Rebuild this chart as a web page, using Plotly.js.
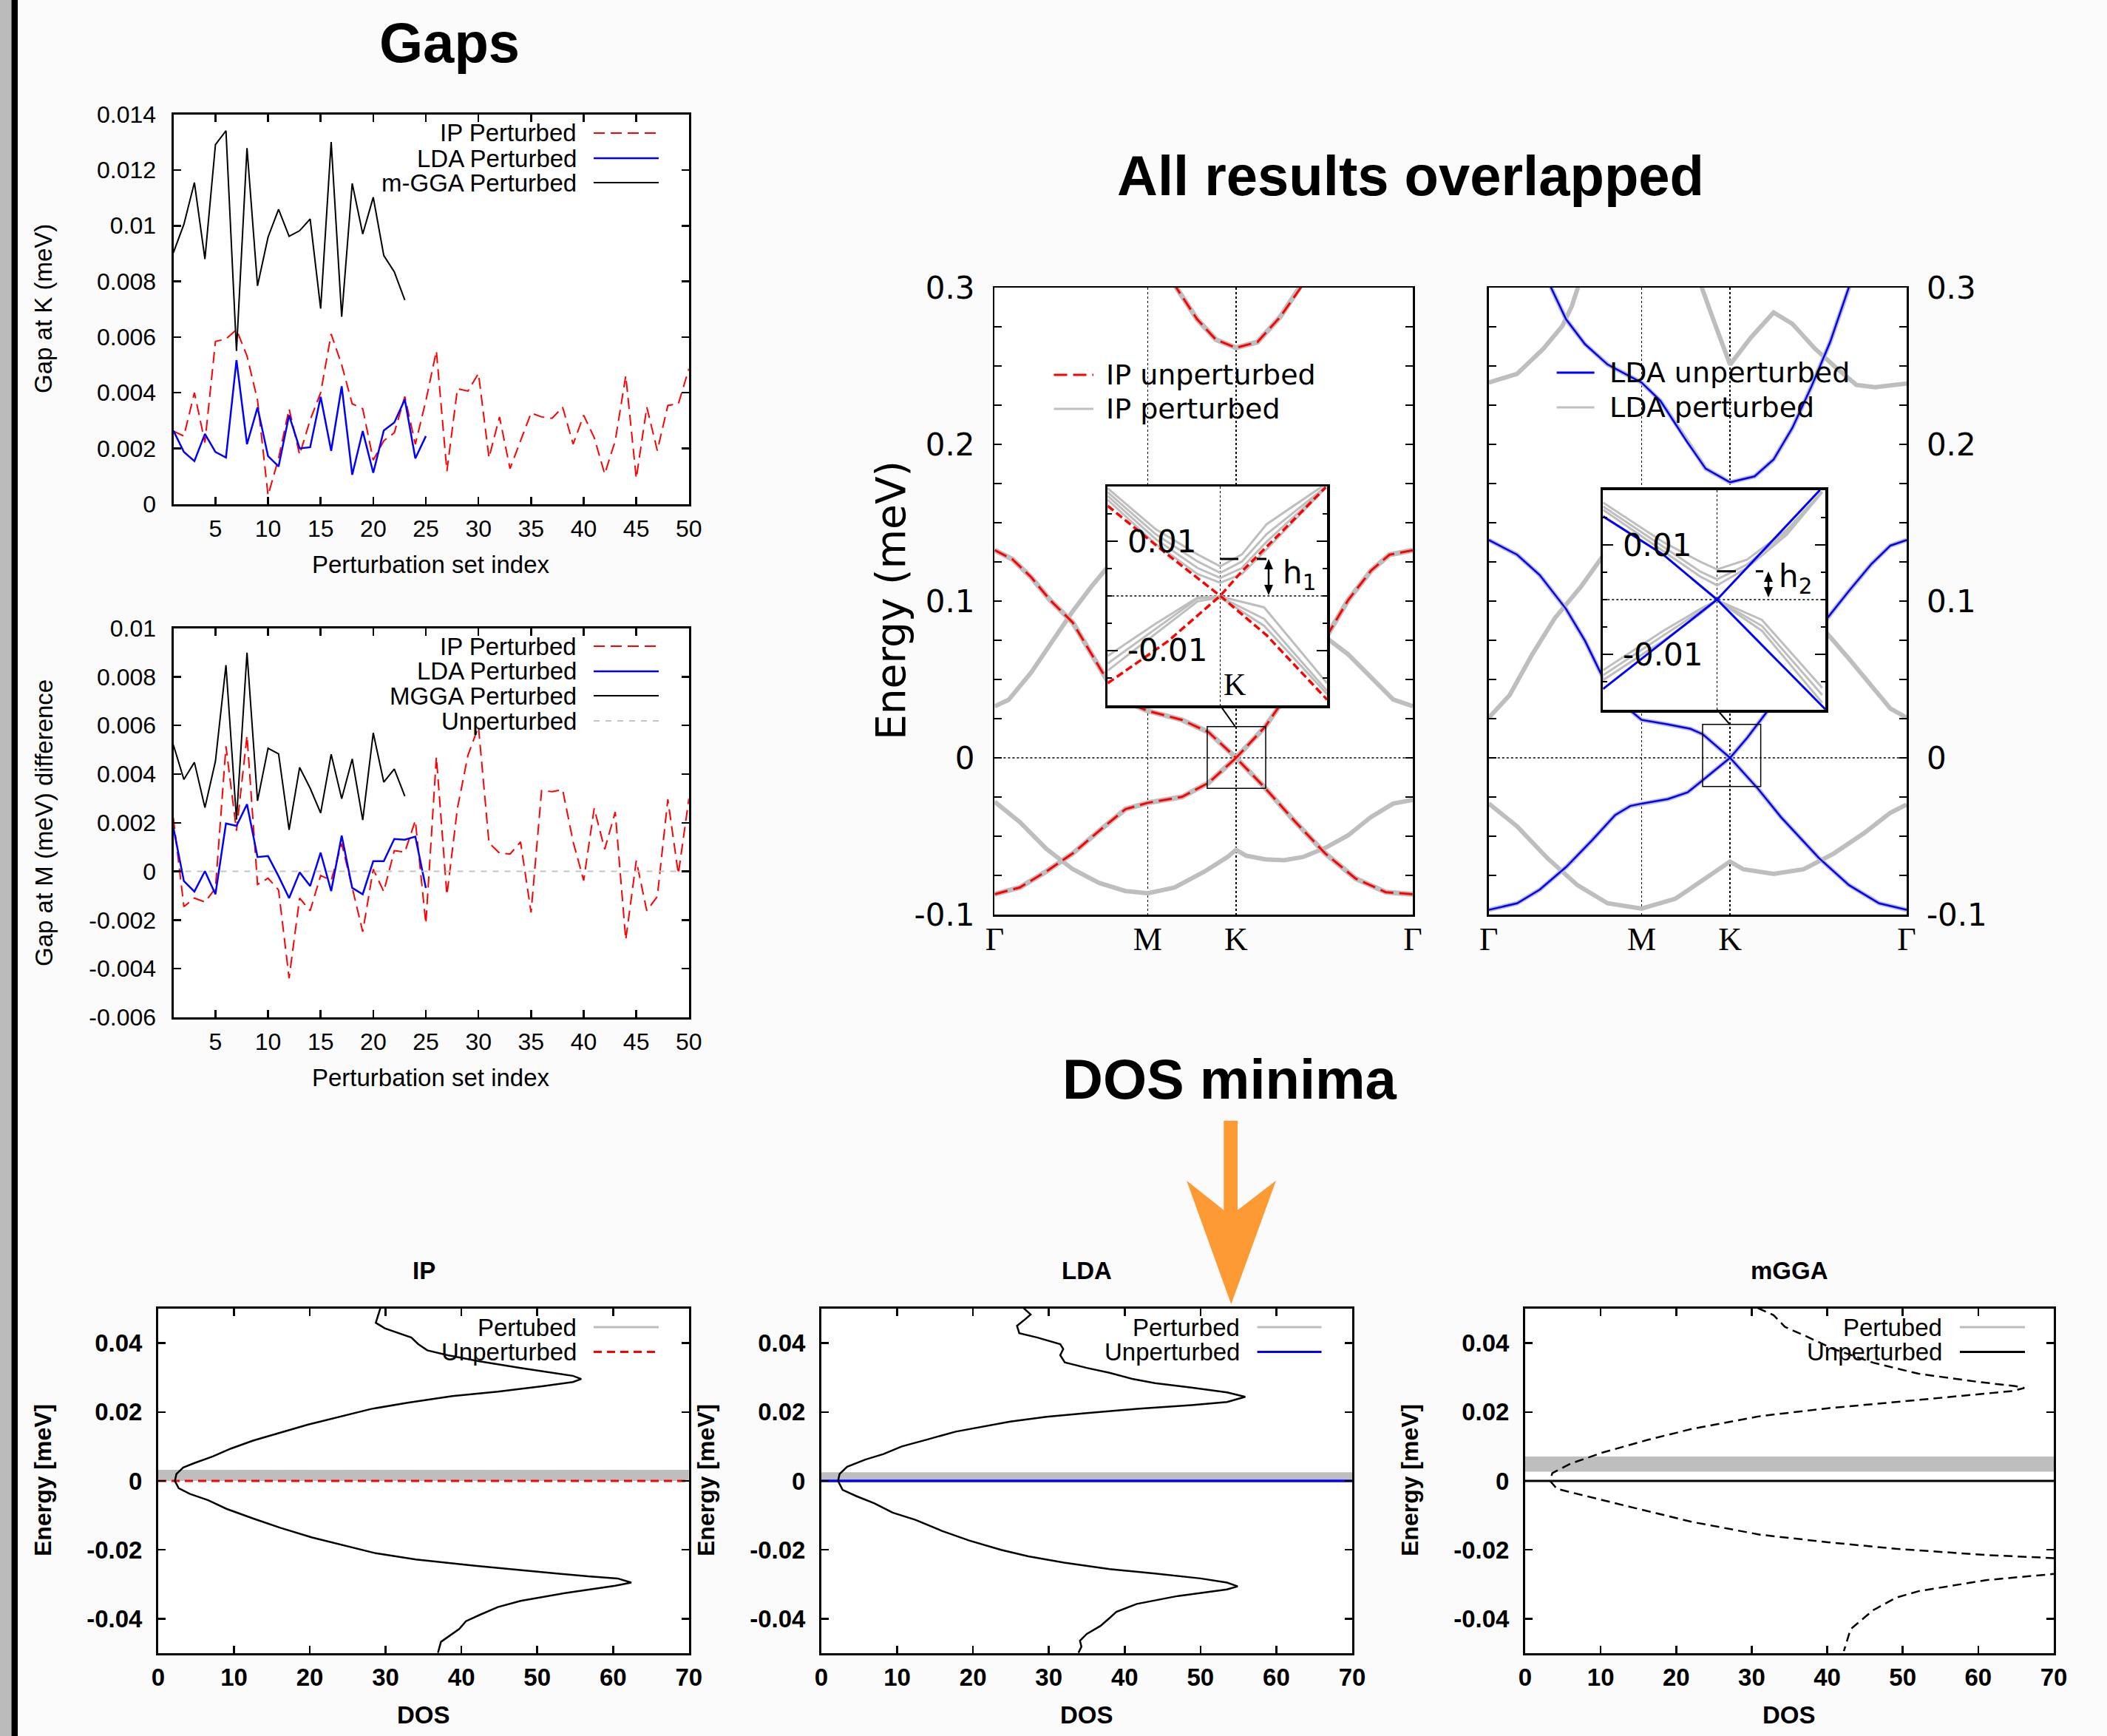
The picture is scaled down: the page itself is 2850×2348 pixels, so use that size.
<!DOCTYPE html>
<html><head><meta charset="utf-8">
<script src="https://cdn.plot.ly/plotly-3.0.1.min.js"></script>
<style>html,body{margin:0;padding:0;background:#fbfbfb;}#chart{width:2850px;height:2348px;}</style>
</head><body><div id="chart"></div>
<script>
// ---------------- DATA ----------------
const perturbationIndex = [1,2,3,4,5,6,7,8,9,10,11,12,13,14,15,16,17,18,19,20,21,22,23,24,25,26,27,28,29,30,31,32,33,34,35,36,37,38,39,40,41,42,43,44,45,46,47,48,49,50];
const gapK_IP = [0.00262,0.00244,0.00400,0.00221,0.00584,0.00593,0.00627,0.00532,0.00373,0.00031,0.00164,0.00342,0.00177,0.00302,0.00400,0.00611,0.00500,0.00360,0.00342,0.00158,0.00227,0.00256,0.00386,0.00215,0.00371,0.00550,0.00118,0.00414,0.00406,0.00469,0.00166,0.00313,0.00127,0.00227,0.00327,0.00313,0.00308,0.00348,0.00215,0.00319,0.00239,0.00108,0.00227,0.00461,0.00092,0.00348,0.00192,0.00354,0.00360,0.00486];
const gapK_LDA = [0.00264,0.00187,0.00154,0.00252,0.00187,0.00167,0.00517,0.00215,0.00347,0.00172,0.00135,0.00319,0.00200,0.00204,0.00385,0.00191,0.00423,0.00105,0.00262,0.00112,0.00264,0.00293,0.00376,0.00164,0.00244];
const gapK_mGGA = [0.00903,0.01005,0.01155,0.00880,0.01291,0.01341,0.00550,0.01279,0.00784,0.00959,0.01059,0.00962,0.00982,0.01024,0.00702,0.01301,0.00673,0.01152,0.00970,0.01102,0.00893,0.00834,0.00733];
const gapM_IP = [0.00220,-0.00145,-0.00110,-0.00126,-0.00070,0.00514,0.00167,0.00558,-0.00054,-0.00028,-0.00077,-0.00439,-0.00110,-0.00162,-0.00017,-0.00037,0.00114,-0.00064,-0.00248,0.00009,-0.00083,0.00085,0.00079,0.00209,-0.00215,0.00470,-0.00097,0.00259,0.00477,0.00595,0.00117,0.00075,0.00071,0.00121,-0.00169,0.00332,0.00328,0.00336,0.00121,-0.00037,0.00259,0.00091,0.00244,-0.00281,0.00044,-0.00162,-0.00103,0.00296,-0.00011,0.00299];
const gapM_LDA = [0.00180,-0.00040,-0.00083,0.00001,-0.00094,0.00197,0.00187,0.00276,0.00059,0.00063,-0.00020,-0.00110,-0.00004,-0.00060,0.00077,-0.00081,0.00147,-0.00068,-0.00094,0.00042,0.00042,0.00133,0.00130,0.00143,-0.00068];
const gapM_MGGA = [0.00520,0.00378,0.00448,0.00262,0.00453,0.00848,0.00213,0.00899,0.00290,0.00506,0.00483,0.00171,0.00427,0.00342,0.00240,0.00481,0.00299,0.00462,0.00211,0.00569,0.00367,0.00421,0.00309];
const gapM_unperturbed = [0, 0];
const gapM_unperturbedIdx = [1, 50];

const gapIndexTicks = [5,10,15,20,25,30,35,40,45,50];
const gapIndexTickText = ['5','10','15','20','25','30','35','40','45','50'];
const gapKTicks = [0,0.002,0.004,0.006,0.008,0.01,0.012,0.014];
const gapKTickText = ['0','0.002','0.004','0.006','0.008','0.01','0.012','0.014'];
const gapMTicks = [-0.006,-0.004,-0.002,0,0.002,0.004,0.006,0.008,0.01];
const gapMTickText = ['-0.006','-0.004','-0.002','0','0.002','0.004','0.006','0.008','0.01'];

// band structures: k along Γ-M-K-Γ, energy in meV units of the figure
const kPathTicks = [0, 1, 1.5774, 2.7321];
const kPathLabels = ['Γ','M','K','Γ'];
const energyTicks = [-0.1, 0, 0.1, 0.2, 0.3];
const energyTickText = ['-0.1','0','0.1','0.2','0.3'];

const ipC1_k = [0,0.116,0.239,0.362,0.51,0.633,0.732,0.855,1.0,1.224,1.397,1.5774,1.766,1.89,2.013,2.17,2.31,2.46,2.58,2.7321];
const ipC1_E = [0.1325,0.1267,0.1152,0.1007,0.0863,0.066,0.050,0.0357,0.030,0.0242,0.0164,0.0,0.0197,0.0372,0.056,0.0777,0.1007,0.1195,0.1296,0.1325];
const ipV1_k = [0,0.165,0.337,0.51,0.682,0.855,1.0,1.224,1.397,1.5774,1.762,1.963,2.16,2.358,2.555,2.7321];
const ipV1_E = [-0.087,-0.0827,-0.0725,-0.061,-0.0466,-0.0327,-0.0287,-0.0249,-0.016,0.0,-0.0187,-0.0407,-0.061,-0.077,-0.0857,-0.087];
const ipC2_k = [1.101,1.187,1.323,1.446,1.5774,1.717,1.865,2.0,2.087];
const ipC2_E = [0.314,0.3,0.2798,0.2668,0.2616,0.2653,0.2812,0.3,0.314];
const ipG1_k = [0,0.091,0.239,0.362,0.51,0.633,0.732,1.0,1.5774,1.95,2.173,2.31,2.456,2.604,2.7321];
const ipG1_E = [0.0329,0.037,0.0545,0.0718,0.0935,0.1094,0.121,0.14,0.12,0.10,0.0762,0.066,0.0516,0.0372,0.0329];
const ipG2_k = [0,0.165,0.337,0.51,0.682,0.855,1.0,1.175,1.372,1.52,1.5774,1.643,1.766,1.89,2.013,2.16,2.31,2.456,2.604,2.7321];
const ipG2_E = [-0.028,-0.041,-0.058,-0.071,-0.0798,-0.085,-0.0864,-0.0827,-0.0725,-0.0633,-0.0587,-0.0624,-0.0647,-0.0653,-0.0633,-0.0575,-0.0494,-0.0379,-0.0292,-0.0269];

const ldaC1_k = [0,0.185,0.333,0.505,0.629,0.752,0.875,0.999,1.171,1.319,1.40,1.5774,1.689,1.812,1.985,2.202,2.355,2.503,2.626,2.7321];
const ldaC1_E = [0.139,0.1296,0.1166,0.095,0.0747,0.050,0.0343,0.0242,0.0213,0.0185,0.0150,0.0,0.0127,0.0285,0.0545,0.0877,0.1065,0.1238,0.1354,0.139];
const ldaV1_k = [0,0.185,0.333,0.505,0.678,0.826,0.925,0.999,1.171,1.30,1.39,1.5774,1.760,1.911,2.158,2.355,2.552,2.7321];
const ldaV1_E = [-0.097,-0.0928,-0.0841,-0.0697,-0.0523,-0.0365,-0.0307,-0.0292,-0.0263,-0.022,-0.015,0.0,-0.0197,-0.0379,-0.0639,-0.0812,-0.0928,-0.097];
const ldaC2_k = [0.345,0.407,0.505,0.629,0.777,0.999,1.122,1.295,1.418,1.5774,1.738,1.862,1.985,2.108,2.232,2.355,2.404];
const ldaC2_E = [0.3115,0.3,0.2798,0.2639,0.2509,0.2394,0.2278,0.2018,0.1845,0.1758,0.1796,0.1903,0.2105,0.2365,0.2653,0.3,0.3144];
const ldaG1_k = [0,0.185,0.357,0.481,0.542,0.584,0.616];
const ldaG1_E = [0.2394,0.245,0.261,0.2755,0.288,0.3,0.31];
const ldaG3_k = [1.356,1.393,1.467,1.5774,1.714,1.862,1.985,2.133,2.281,2.404,2.527,2.7321];
const ldaG3_E = [0.3115,0.3,0.2798,0.2509,0.2682,0.2841,0.2769,0.261,0.248,0.2379,0.2365,0.2388];
const ldaG4_k = [0,0.136,0.284,0.432,0.604,0.752,0.999,1.5774,2.0,2.202,2.355,2.503,2.626,2.7321];
const ldaG4_E = [0.0256,0.04,0.066,0.0892,0.1094,0.1296,0.14,0.12,0.10,0.0805,0.0632,0.0459,0.0314,0.0256];
const ldaG5_k = [0,0.185,0.382,0.579,0.777,0.999,1.22,1.418,1.5774,1.664,1.862,2.059,2.256,2.454,2.626,2.7321];
const ldaG5_E = [-0.0292,-0.0437,-0.0639,-0.0812,-0.0928,-0.0962,-0.0899,-0.0769,-0.0662,-0.0711,-0.074,-0.0711,-0.061,-0.048,-0.035,-0.0298];

// insets around K (dk in inset units, E in meV)
const insetTicks = [-0.01, 0.01];
const insetTickText = ['-0.01','0.01'];
const ipInsetRed1_u = [-0.513,-0.238,0,0.211,0.487];
const ipInsetRed1_E = [0.0165,0.0075,0,-0.0072,-0.0190];
const ipInsetRed2_u = [-0.513,-0.238,0,0.099,0.324,0.481];
const ipInsetRed2_E = [-0.0160,-0.0083,0,0.0045,0.0135,0.0199];
const ipInsetUp_u = [-0.513,-0.294,-0.103,0,0.099,0.211,0.481];
const ipInsetUp = [
  [0.0197,0.0122,0.0076,0.0054,0.0076,0.0131,0.0205],
  [0.0190,0.0113,0.0063,0.0042,0.0063,0.0113,0.0200],
  [0.0183,0.0104,0.0051,0.0033,0.0051,0.0099,0.0199],
  [0.0176,0.0095,0.0040,0.0024,0.0040,0.0085,0.0198]];
const ipInsetLo_u = [-0.513,-0.294,-0.103,0,0.200,0.487];
const ipInsetLo = [
  [-0.0110,-0.0051,-0.0003,-0.0001,-0.0021,-0.0160],
  [-0.0124,-0.0060,-0.0005,-0.0002,-0.0042,-0.0174],
  [-0.0137,-0.0069,-0.0010,-0.0003,-0.0055,-0.0180]];

const ldaInsetBlue1_u = [-0.513,-0.242,0,0.487];
const ldaInsetBlue1_E = [0.0152,0.0082,0,-0.0200];
const ldaInsetBlue2_u = [-0.513,0,0.463];
const ldaInsetBlue2_E = [-0.0163,0,0.0200];
const ldaInsetUp_u = [-0.513,-0.242,-0.075,0,0.135,0.313,0.473];
const ldaInsetUp = [
  [0.0177,0.0105,0.0069,0.0055,0.0073,0.0127,0.0197],
  [0.0170,0.0096,0.0051,0.0037,0.0064,0.0123,0.0197],
  [0.0164,0.0089,0.0042,0.0026,0.0058,0.0118,0.0196]];
const ldaInsetLo_u = [-0.513,-0.242,-0.075,0,0.202,0.473];
const ldaInsetLo = [
  [-0.0129,-0.0057,-0.0017,-0.0001,-0.0037,-0.0161],
  [-0.0138,-0.0066,-0.0021,-0.0001,-0.0048,-0.0174],
  [-0.0147,-0.0075,-0.0026,-0.0001,-0.0057,-0.0188]];

// DOS
const dosTicks = [0,10,20,30,40,50,60,70];
const dosTickText = ['0','10','20','30','40','50','60','70'];
const dosETicks = [-0.04,-0.02,0,0.02,0.04];
const dosETickText = ['-0.04','-0.02','0','0.02','0.04'];
const dosRange = [0, 70];
const ipDOS = [29.3,29.0,28.7,29.9,31.7,33.4,34.3,35.5,38.2,42.4,47.8,52.0,54.7,55.8,54.7,50.8,44.8,38.8,32.9,28.1,23.9,19.7,16.1,12.5,9.6,7.2,4.8,3.3,2.4,2.2,2.7,4.2,6.6,9.0,12.5,16.1,20.3,24.5,28.7,34.0,41.8,50.8,56.7,60.6,62.4,60.3,53.8,47.8,44.8,42.4,40.6,39.7,38.5,37.3,36.9];
const ipDOS_E = [0.0501,0.048,0.0459,0.0443,0.0429,0.0416,0.0397,0.0379,0.0365,0.0347,0.0328,0.0314,0.0305,0.0296,0.0287,0.0275,0.0259,0.0246,0.0227,0.0209,0.0186,0.0163,0.014,0.0117,0.0094,0.0071,0.0052,0.0039,0.002,0.0,-0.0021,-0.0038,-0.0056,-0.0081,-0.0109,-0.0136,-0.0164,-0.0187,-0.021,-0.0228,-0.0246,-0.0265,-0.0277,-0.0283,-0.0295,-0.0304,-0.0325,-0.0348,-0.0366,-0.0389,-0.0407,-0.043,-0.0449,-0.0467,-0.0499];
const ldaDOS = [26.7,27.6,26.7,25.8,26.1,28.5,31.5,31.9,31.5,32.1,35.0,38.0,41.0,44.0,48.8,53.5,55.9,53.5,48.8,41.6,35.0,29.7,24.9,21.3,17.7,14.1,10.6,8.2,5.8,3.4,2.4,2.2,2.8,4.6,7.0,9.4,12.4,15.9,19.5,23.7,27.3,32.0,38.0,44.0,50.0,53.5,54.9,53.5,47.0,41.6,38.9,38.0,36.8,35.0,34.1,34.3,33.9];
const ldaDOS_E = [0.0501,0.0483,0.0466,0.045,0.0429,0.0416,0.0397,0.0383,0.0365,0.0344,0.0328,0.0314,0.0296,0.0284,0.0271,0.0257,0.0244,0.0229,0.022,0.0209,0.0197,0.0186,0.0172,0.0158,0.0143,0.0121,0.01,0.0078,0.0062,0.0041,0.002,0.0,-0.0026,-0.0044,-0.0065,-0.0092,-0.0113,-0.0145,-0.0173,-0.02,-0.0219,-0.0237,-0.0256,-0.0269,-0.0283,-0.0295,-0.0306,-0.0315,-0.0334,-0.0357,-0.038,-0.0398,-0.0421,-0.0444,-0.0464,-0.0481,-0.0499];
const mggaDOS = [30.8,32.9,34.4,37.1,40.7,46.1,52.1,59.8,64.9,66.1,64.6,58.0,49.1,40.1,31.1,22.1,16.2,10.2,6.0,3.6,3.3,4.2,8.4,14.4,22.1,31.1,40.1,49.1,61.0,70.0,80.0,70.0,61.0,52.1,49.1,46.1,43.1,42.2];
const mggaDOS_E = [0.0502,0.0481,0.0447,0.0421,0.0384,0.0343,0.0311,0.0288,0.0275,0.027,0.0261,0.0247,0.0229,0.0211,0.0188,0.0151,0.0119,0.0082,0.005,0.0023,0.0,-0.0023,-0.0046,-0.0078,-0.0119,-0.0156,-0.0178,-0.0197,-0.0215,-0.0224,-0.0248,-0.027,-0.0288,-0.032,-0.0339,-0.0375,-0.043,-0.0494];
const ipPertBand = [0.0, 0.0032];
const ldaPertBand = [0.0, 0.0025];
const mggaPertBand = [0.0027, 0.0071];
const unperturbedLevel = [0, 0];

// ---------------- LAYOUT HELPERS ----------------
const W = 2850, H = 2348;
const PX = x => x / W, PY = y => 1 - y / H;
const DX = (a, b) => [a / W, b / W];
const DY = (t, b) => [1 - b / H, 1 - t / H];
const RED = '#ff0000', BLUE = '#0000ff', GRAY = '#bebebe';

const traces = [];
function ln(xa, ya, x, y, color, width, dash, extra) {
  traces.push(Object.assign({type:'scatter', mode:'lines', xaxis:xa, yaxis:ya, x:x, y:y,
    line:{color:color, width:width, dash:dash || 'solid'}, hoverinfo:'skip', showlegend:false}, extra || {}));
}
function band(xa, ya, lim) {
  traces.push({type:'scatter', mode:'lines', xaxis:xa, yaxis:ya,
    x:[dosRange[0], dosRange[1], dosRange[1], dosRange[0], dosRange[0]],
    y:[lim[0], lim[0], lim[1], lim[1], lim[0]], fill:'toself', fillcolor:GRAY,
    line:{width:0, color:GRAY}, hoverinfo:'skip', showlegend:false});
}

// Gap at K
ln('x','y', perturbationIndex, gapK_IP, RED, 2, '15px,8px');
ln('x','y', perturbationIndex.slice(0, gapK_LDA.length), gapK_LDA, BLUE, 2.5);
ln('x','y', perturbationIndex.slice(0, gapK_mGGA.length), gapK_mGGA, '#000', 2);
// Gap at M
ln('x2','y2', perturbationIndex, gapM_IP, RED, 2, '15px,8px');
ln('x2','y2', perturbationIndex.slice(0, gapM_LDA.length), gapM_LDA, BLUE, 2.5);
ln('x2','y2', perturbationIndex.slice(0, gapM_MGGA.length), gapM_MGGA, '#000', 2);
ln('x2','y2', gapM_unperturbedIdx, gapM_unperturbed, '#c4c4c4', 2, '8px,8px');

// IP bands
ln('x3','y3', ipG1_k, ipG1_E, GRAY, 6);
ln('x3','y3', ipG2_k, ipG2_E, GRAY, 6);
ln('x3','y3', ipC1_k, ipC1_E, GRAY, 7);
ln('x3','y3', ipV1_k, ipV1_E, GRAY, 7);
ln('x3','y3', ipC2_k, ipC2_E, GRAY, 7);
ln('x3','y3', ipC1_k, ipC1_E, RED, 3, '18px,8px');
ln('x3','y3', ipV1_k, ipV1_E, RED, 3, '18px,8px');
ln('x3','y3', ipC2_k, ipC2_E, RED, 3, '18px,8px');
// IP inset
ipInsetUp.forEach(e => ln('x4','y4', ipInsetUp_u, e, GRAY, 3));
ipInsetLo.forEach(e => ln('x4','y4', ipInsetLo_u, e, GRAY, 3));
ln('x4','y4', ipInsetRed1_u, ipInsetRed1_E, RED, 3.5, '10px,5px');
ln('x4','y4', ipInsetRed2_u, ipInsetRed2_E, RED, 3.5, '10px,5px');

// LDA bands
ln('x5','y5', ldaG1_k, ldaG1_E, GRAY, 6);
ln('x5','y5', ldaG3_k, ldaG3_E, GRAY, 6);
ln('x5','y5', ldaG4_k, ldaG4_E, GRAY, 6);
ln('x5','y5', ldaG5_k, ldaG5_E, GRAY, 6);
ln('x5','y5', ldaC1_k, ldaC1_E, GRAY, 6);
ln('x5','y5', ldaV1_k, ldaV1_E, GRAY, 6);
ln('x5','y5', ldaC2_k, ldaC2_E, GRAY, 6);
ln('x5','y5', ldaC1_k, ldaC1_E, BLUE, 2.5);
ln('x5','y5', ldaV1_k, ldaV1_E, BLUE, 2.5);
ln('x5','y5', ldaC2_k, ldaC2_E, BLUE, 2.5);
// LDA inset
ldaInsetUp.forEach(e => ln('x6','y6', ldaInsetUp_u, e, GRAY, 3));
ldaInsetLo.forEach(e => ln('x6','y6', ldaInsetLo_u, e, GRAY, 3));
ln('x6','y6', ldaInsetBlue1_u, ldaInsetBlue1_E, BLUE, 3);
ln('x6','y6', ldaInsetBlue2_u, ldaInsetBlue2_E, BLUE, 3);

// DOS
band('x7','y7', ipPertBand);
ln('x7','y7', dosRange, unperturbedLevel, RED, 3, '11px,7px');
ln('x7','y7', ipDOS, ipDOS_E, '#000', 2.5);
band('x8','y8', ldaPertBand);
ln('x8','y8', dosRange, unperturbedLevel, BLUE, 3.5);
ln('x8','y8', ldaDOS, ldaDOS_E, '#000', 2.5);
band('x9','y9', mggaPertBand);
ln('x9','y9', dosRange, unperturbedLevel, '#000', 3);
ln('x9','y9', mggaDOS, mggaDOS_E, '#000', 2.5, '12px,7px');

// ---------------- AXES ----------------
const gnuFont = {family:'Liberation Sans', size:32, color:'#000'};
const dosFont = {family:'Liberation Sans', size:33, color:'#000', weight:'bold'};
const dvFont = {family:'DejaVu Sans', size:42, color:'#000'};
function ax(o) {
  return Object.assign({showline:true, linecolor:'#000', linewidth:3, mirror:'allticks', ticks:'inside',
    ticklen:10, tickwidth:2.5, tickcolor:'#000', showgrid:false, zeroline:false, fixedrange:true,
    tickmode:'array'}, o);
}
const minorE = {tickmode:'linear', tick0:0, dtick:0.025, ticks:'inside', ticklen:10, tickwidth:2, tickcolor:'#000', showgrid:false};
const minorI = {tickmode:'linear', tick0:0, dtick:0.005, ticks:'inside', ticklen:6, tickwidth:2, tickcolor:'#000', showgrid:false};
const serifTick = {family:'Liberation Serif', size:44, color:'#000'};

const layout = {
  width: W, height: H, margin:{l:0, r:0, t:0, b:0, pad:0},
  paper_bgcolor:'#fbfbfb', plot_bgcolor:'#ffffff', showlegend:false,
  xaxis: ax({domain:DX(234.5,931.8), anchor:'y', range:[1,50], tickvals:gapIndexTicks, ticktext:gapIndexTickText, tickfont:gnuFont, ticklabelstandoff:3}),
  yaxis: ax({domain:DY(154.7,681.7), anchor:'x', range:[0,0.014], tickvals:gapKTicks, ticktext:gapKTickText, tickfont:gnuFont, ticklabelstandoff:14}),
  xaxis2: ax({domain:DX(234.5,931.8), anchor:'y2', range:[1,50], tickvals:gapIndexTicks, ticktext:gapIndexTickText, tickfont:gnuFont, ticklabelstandoff:3}),
  yaxis2: ax({domain:DY(849.5,1376), anchor:'x2', range:[-0.006,0.01], tickvals:gapMTicks, ticktext:gapMTickText, tickfont:gnuFont, ticklabelstandoff:14}),

  xaxis3: ax({domain:DX(1345.4,1911), anchor:'y3', range:[0,2.7321], tickvals:kPathTicks, ticktext:kPathLabels, ticks:'', mirror:true, linewidth:2.5,
    showgrid:true, gridcolor:'#000', griddash:'dot', gridwidth:1.5, tickfont:serifTick, ticklabelstandoff:-7}),
  yaxis3: ax({domain:DY(389,1237), anchor:'x3', range:[-0.1,0.3], tickvals:energyTicks, ticktext:energyTickText, linewidth:2.5, minor:minorE, tickfont:dvFont, ticklabelstandoff:16}),
  xaxis4: ax({domain:DX(1498.3,1795), anchor:'y4', range:[-0.513,0.487], tickvals:[0], showticklabels:false, ticks:'', mirror:true, linewidth:3.5,
    showgrid:true, gridcolor:'#000', griddash:'dot', gridwidth:1.5}),
  yaxis4: ax({domain:DY(658.3,954.3), anchor:'x4', range:[-0.0201,0.0200], tickvals:insetTicks, ticktext:insetTickText, ticklen:14, linewidth:3.5,
    minor:minorI, tickfont:dvFont, ticklabelposition:'inside', ticklabelstandoff:18}),

  xaxis5: ax({domain:DX(2013.8,2579), anchor:'y5', range:[0,2.7321], tickvals:kPathTicks, ticktext:kPathLabels, ticks:'', mirror:true, linewidth:2.5,
    showgrid:true, gridcolor:'#000', griddash:'dot', gridwidth:1.5, tickfont:serifTick, ticklabelstandoff:-7}),
  yaxis5: ax({domain:DY(389,1237), anchor:'x5', side:'right', range:[-0.1,0.3], tickvals:energyTicks, ticktext:energyTickText, linewidth:2.5, minor:minorE, tickfont:dvFont, ticklabelstandoff:16}),
  xaxis6: ax({domain:DX(2168.3,2469), anchor:'y6', range:[-0.513,0.487], tickvals:[0], showticklabels:false, ticks:'', mirror:true, linewidth:3.5,
    showgrid:true, gridcolor:'#000', griddash:'dot', gridwidth:1.5}),
  yaxis6: ax({domain:DY(662.7,960), anchor:'x6', range:[-0.0201,0.0200], tickvals:insetTicks, ticktext:insetTickText, ticklen:14, linewidth:3.5,
    minor:minorI, tickfont:dvFont, ticklabelposition:'inside', ticklabelstandoff:18}),

  xaxis7: ax({domain:DX(214,931.8), anchor:'y7', range:dosRange, tickvals:dosTicks, ticktext:dosTickText, tickfont:dosFont, ticklabelstandoff:1}),
  yaxis7: ax({domain:DY(1770,2236), anchor:'x7', range:[-0.05,0.05], tickvals:dosETicks, ticktext:dosETickText, tickfont:dosFont, ticklabelstandoff:12}),
  xaxis8: ax({domain:DX(1111,1829), anchor:'y8', range:dosRange, tickvals:dosTicks, ticktext:dosTickText, tickfont:dosFont, ticklabelstandoff:1}),
  yaxis8: ax({domain:DY(1770,2236), anchor:'x8', range:[-0.05,0.05], tickvals:dosETicks, ticktext:dosETickText, tickfont:dosFont, ticklabelstandoff:12}),
  xaxis9: ax({domain:DX(2063,2778), anchor:'y9', range:dosRange, tickvals:dosTicks, ticktext:dosTickText, tickfont:dosFont, ticklabelstandoff:1}),
  yaxis9: ax({domain:DY(1770,2236), anchor:'x9', range:[-0.05,0.05], tickvals:dosETicks, ticktext:dosETickText, tickfont:dosFont, ticklabelstandoff:12})
};

// ---------------- ANNOTATIONS / SHAPES ----------------
const ann = [];
function txt(text, x, y, o) {
  ann.push(Object.assign({text:text, x:PX(x), y:PY(y), xref:'paper', yref:'paper', showarrow:false,
    xanchor:'center', yanchor:'middle', font:{family:'Liberation Sans', size:33, color:'#000'}}, o || {}));
}
const titleFont = {family:'Liberation Sans', size:76, color:'#000'};
txt('<b>Gaps</b>', 608, 58, {font:titleFont});
txt('<b>All results overlapped</b>', 1908, 237, {font:titleFont});
txt('<b>DOS minima</b>', 1664, 1459, {font:titleFont});

txt('Perturbation set index', 583, 764);
txt('Perturbation set index', 583, 1457);
txt('Gap at K (meV)', 59, 418, {textangle:-90});
txt('Gap at M (meV) difference', 59, 1113, {textangle:-90});

const shapes = [];
function seg(x0, y0, x1, y1, color, width, dash) {
  shapes.push({type:'line', xref:'paper', yref:'paper', x0:PX(x0), y0:PY(y0), x1:PX(x1), y1:PY(y1),
    line:{color:color, width:width, dash:dash || 'solid'}, layer:'above'});
}
function poly(pts, color) {
  shapes.push({type:'path', xref:'paper', yref:'paper', layer:'above', fillcolor:color, line:{width:0},
    path:'M ' + pts.map(p => PX(p[0]).toFixed(5) + ',' + PY(p[1]).toFixed(5)).join(' L ') + ' Z'});
}
function dblArrow(x, yTop, yBot) {
  seg(x, yTop + 10, x, yBot - 10, '#000', 2.5);
  poly([[x, yTop], [x - 6, yTop + 14], [x + 6, yTop + 14]], '#000');
  poly([[x, yBot], [x - 6, yBot - 14], [x + 6, yBot - 14]], '#000');
}
// gnuplot-style legends (text right, sample line after)
[['IP Perturbed', RED, 2, '15px,8px', 180], ['LDA Perturbed', BLUE, 2.5, null, 214], ['m-GGA Perturbed', '#000', 2, null, 247]]
  .forEach(r => { txt(r[0], 782, r[4], {xanchor:'right'}); seg(803, r[4], 891, r[4], r[1], r[2], r[3]); });
[['IP Perturbed', RED, 2, '15px,8px', 874], ['LDA Perturbed', BLUE, 2.5, null, 908], ['MGGA Perturbed', '#000', 2, null, 941], ['Unperturbed', '#c4c4c4', 2, '8px,8px', 975]]
  .forEach(r => { txt(r[0], 782, r[4], {xanchor:'right'}); seg(803, r[4], 891, r[4], r[1], r[2], r[3]); });

// band panels
const dvLeg = {family:'DejaVu Sans', size:38, color:'#000'};
txt('Energy (meV)', 1205, 812, {textangle:-90, font:{family:'DejaVu Sans', size:55, color:'#000'}});
seg(1425.5, 507, 1479, 507, RED, 3, '18px,8px'); txt('IP unperturbed', 1494, 507, {xanchor:'left', font:dvLeg});
seg(1425.5, 553, 1479, 553, '#c0c0c0', 3);      txt('IP perturbed', 1494, 553, {xanchor:'left', font:dvLeg});
seg(2105.6, 504, 2156.6, 504, BLUE, 3);         txt('LDA unperturbed', 2174.5, 504, {xanchor:'left', font:dvLeg});
seg(2105.6, 551, 2156.6, 551, '#c0c0c0', 3);    txt('LDA perturbed', 2174.5, 551, {xanchor:'left', font:dvLeg});
txt('K', 1670, 926, {font:{family:'Liberation Serif', size:42, color:'#000'}});
txt('h<sub>1</sub>', 1733, 777, {xanchor:'left', font:{family:'DejaVu Sans', size:42, color:'#000'}});
txt('h<sub>2</sub>', 2404, 783, {xanchor:'left', font:{family:'DejaVu Sans', size:42, color:'#000'}});
dblArrow(1716, 756, 805);
dblArrow(2392, 773, 808);
seg(1650.7, 756, 1675, 756, '#000', 3); seg(1700, 756, 1713, 756, '#000', 3);
seg(2322.7, 772.7, 2348, 772.7, '#000', 3); seg(2375, 772.7, 2385, 772.7, '#000', 3);
seg(1650.7, 954.3, 1671, 983, '#000', 2);
seg(2322.7, 960, 2340, 980, '#000', 2);
shapes.push({type:'rect', xref:'x3', yref:'y3', x0:1.389, x1:1.771, y0:-0.0194, y1:0.0199, line:{color:'#000', width:1.5}, layer:'above'});
shapes.push({type:'rect', xref:'x5', yref:'y5', x0:1.398, x1:1.778, y0:-0.0183, y1:0.0213, line:{color:'#000', width:1.5}, layer:'above'});
[['x3','y3'],['x5','y5']].forEach(p => shapes.push({type:'line', xref:p[0], yref:p[1], x0:0, x1:2.7321, y0:0, y1:0, line:{color:'#000', width:1.5, dash:'dot'}, layer:'below'}));
[['x4','y4'],['x6','y6']].forEach(p => shapes.push({type:'line', xref:p[0], yref:p[1], x0:-0.513, x1:0.487, y0:0, y1:0, line:{color:'#000', width:1.5, dash:'dot'}, layer:'below'}));

// DOS panels
const dosB = {family:'Liberation Sans', size:33, color:'#000', weight:'bold'};
[[573, 'IP', 58], [1470, 'LDA', 955], [2420, 'mGGA', 1907]].forEach(p => {
  txt(p[1], p[0], 1718, {font:dosB});
  txt('DOS', p[0], 2319, {font:dosB});
  txt('Energy [meV]', p[2], 2002, {textangle:-90, font:{family:'Liberation Sans', size:32, color:'#000', weight:'bold'}});
});
txt('Pertubed', 782, 1795, {xanchor:'right'});    seg(803, 1795, 891, 1795, GRAY, 3);
txt('Unperturbed', 782, 1828.5, {xanchor:'right'}); seg(803, 1828.5, 891, 1828.5, RED, 3, '11px,7px');
txt('Perturbed', 1678.5, 1795, {xanchor:'right'}); seg(1700.6, 1795, 1787.5, 1795, GRAY, 3);
txt('Unperturbed', 1678.5, 1828.5, {xanchor:'right'}); seg(1700.6, 1828.5, 1787.5, 1828.5, BLUE, 3);
txt('Pertubed', 2629, 1795, {xanchor:'right'});   seg(2651, 1795, 2739, 1795, GRAY, 3);
txt('Unperturbed', 2629, 1828.5, {xanchor:'right'}); seg(2651, 1828.5, 2739, 1828.5, '#000', 3);

// left page border
shapes.push({type:'rect', xref:'paper', yref:'paper', x0:0, x1:PX(15.5), y0:0, y1:1, fillcolor:'#bbbbbb', line:{width:0}, layer:'below'});
shapes.push({type:'rect', xref:'paper', yref:'paper', x0:PX(15.5), x1:PX(24), y0:0, y1:1, fillcolor:'#000', line:{width:0}, layer:'below'});
// orange arrow
poly([[1655.3,1515.7],[1674,1515.7],[1674,1636.7],[1726,1596.7],[1665.3,1764],[1605,1596.7],[1655.3,1636.7]], '#fe9a33');

layout.annotations = ann;
layout.shapes = shapes;
Plotly.newPlot('chart', traces, layout, {displayModeBar:false, staticPlot:true});
</script></body></html>
